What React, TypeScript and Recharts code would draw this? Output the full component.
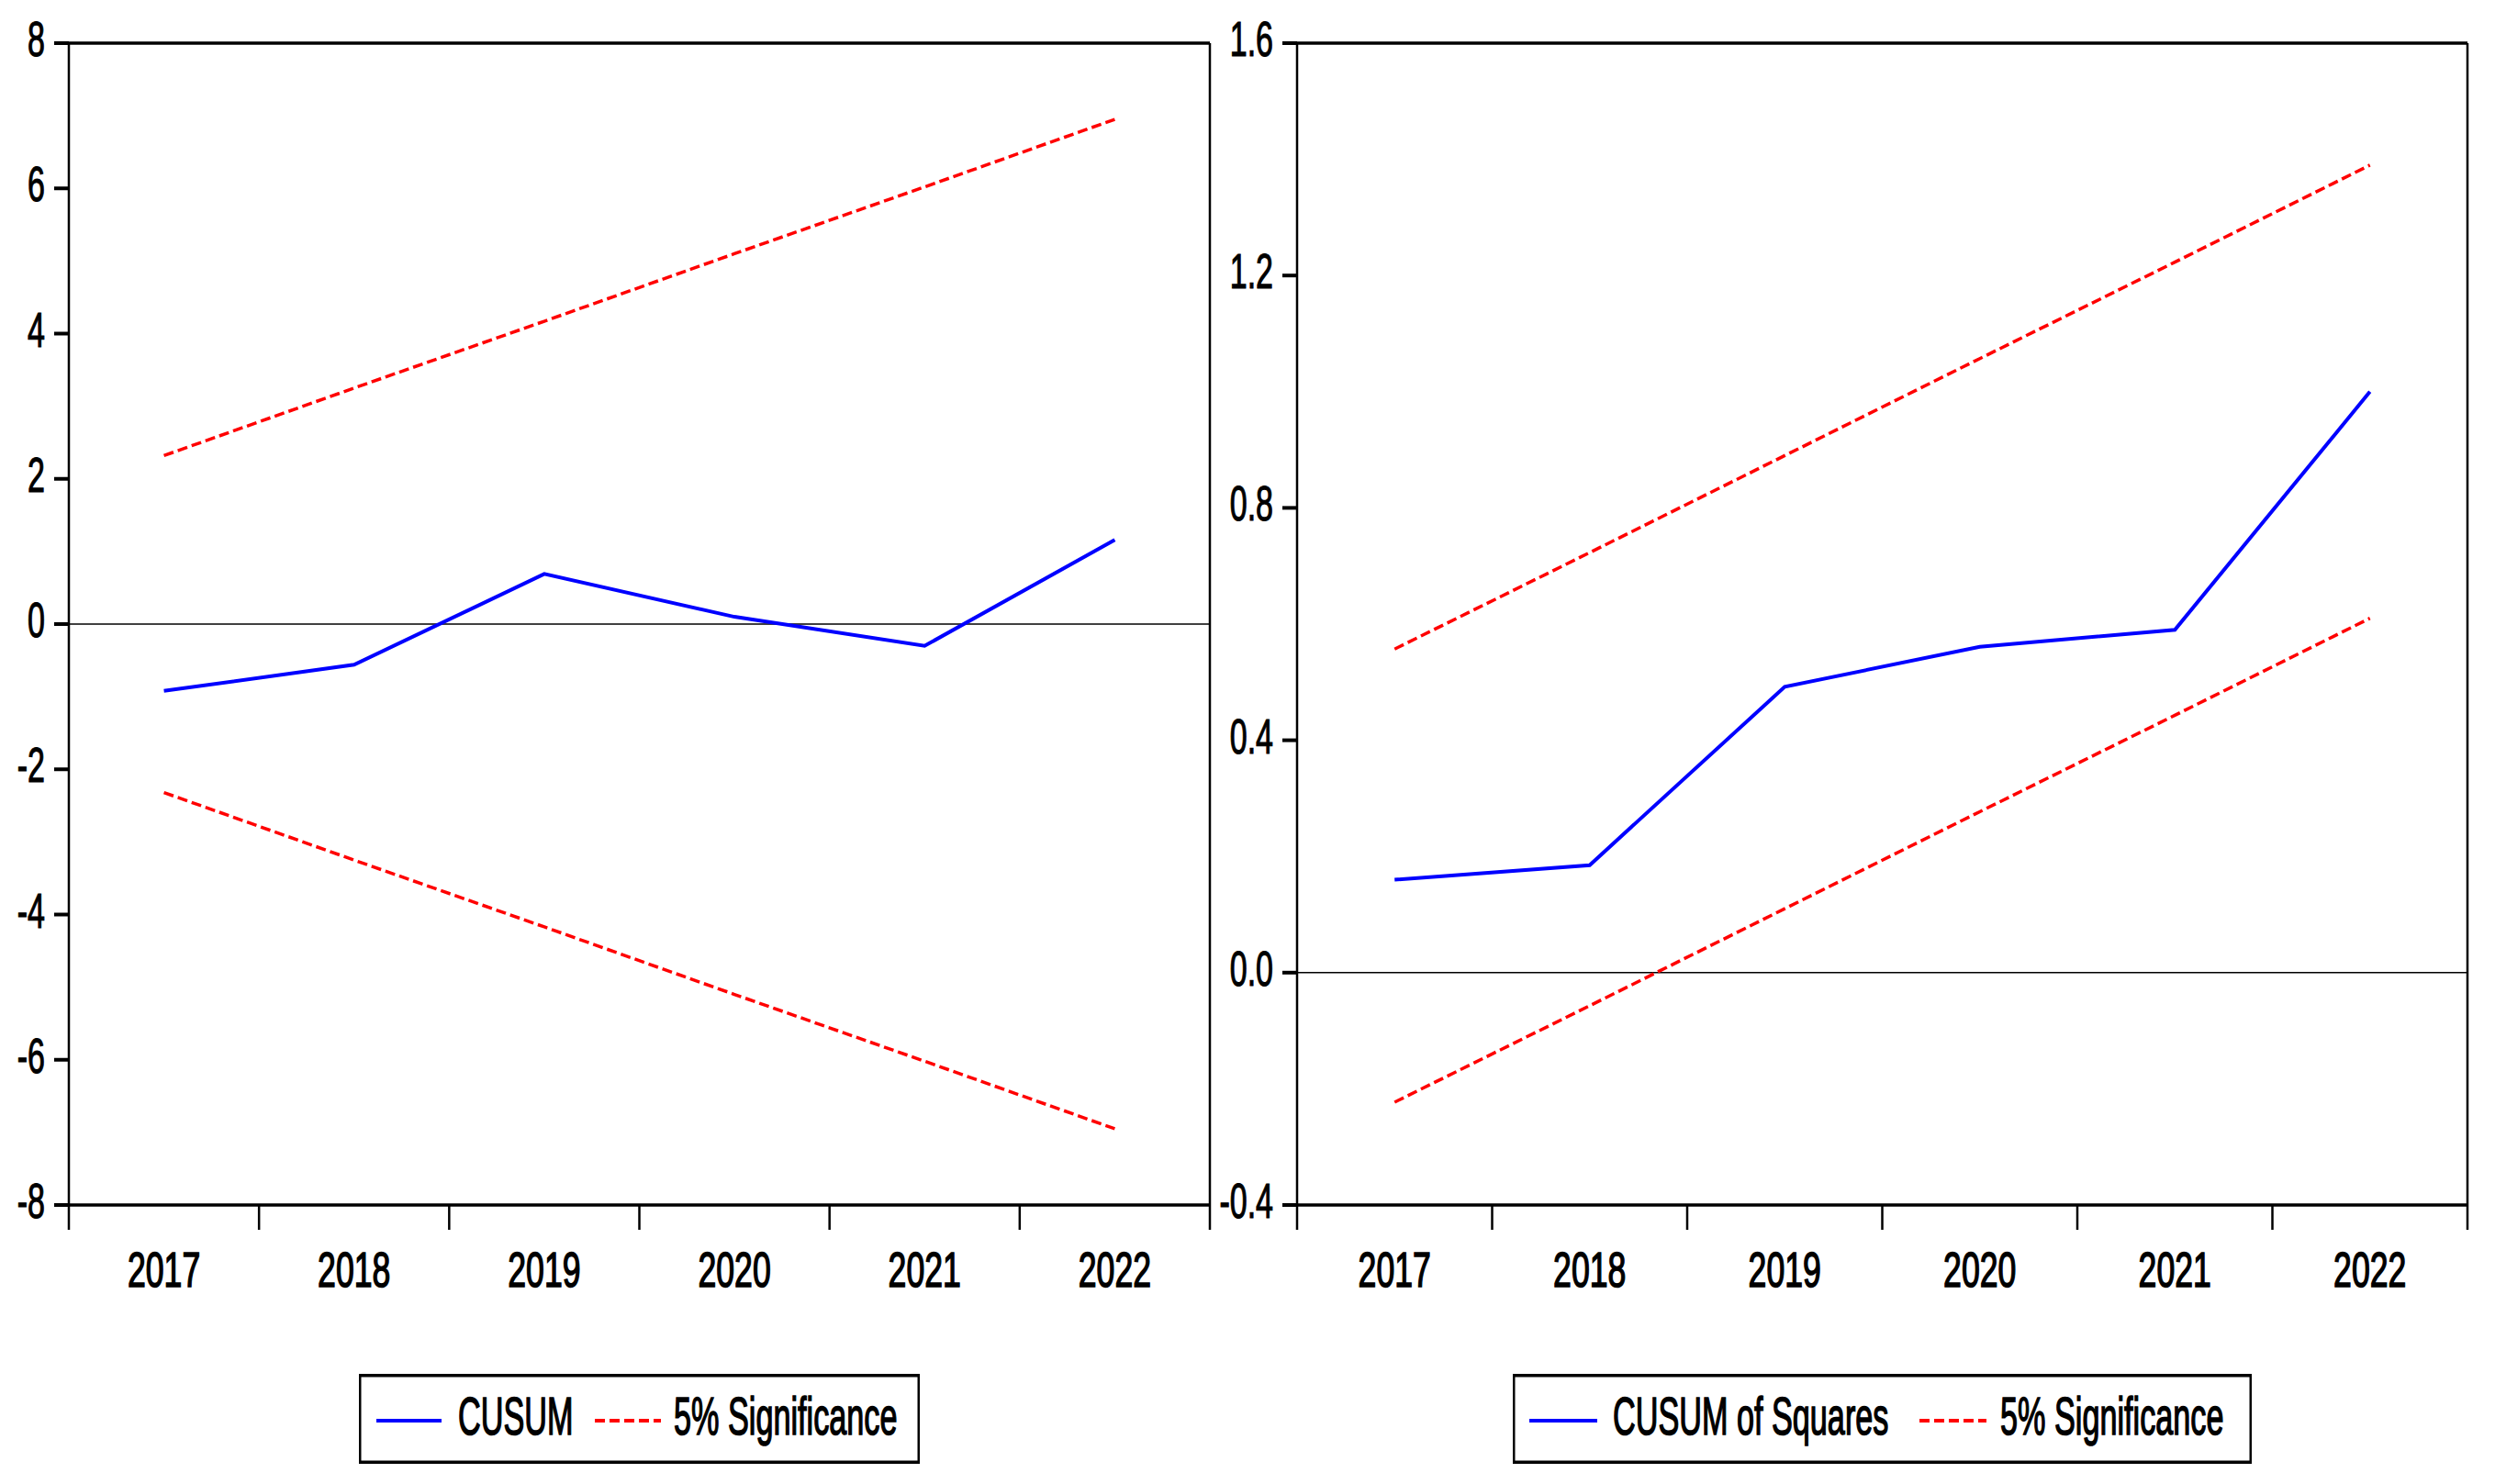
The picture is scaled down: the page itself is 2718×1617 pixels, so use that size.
import { LineChart, Line, XAxis, YAxis, ReferenceLine, Legend } from 'recharts';

// observation years
const years = [2017, 2018, 2019, 2020, 2021, 2022];

// CUSUM panel
const cusum = [-0.92, -0.56, 0.69, 0.1, -0.3, 1.16];
const cusumUpper = [2.32, 3.25, 4.17, 5.1, 6.02, 6.95];
const cusumLower = [-2.32, -3.25, -4.17, -5.1, -6.02, -6.95];
const cusumTicks = [-8, -6, -4, -2, 0, 2, 4, 6, 8];

// CUSUM of squares panel
const cusumSq = [0.16, 0.185, 0.492, 0.561, 0.59, 1.0];
const sqUpper = [0.557, 0.723, 0.89, 1.057, 1.223, 1.39];
const sqLower = [-0.223, -0.057, 0.11, 0.277, 0.443, 0.61];
const sqTicks = [-0.4, 0, 0.4, 0.8, 1.2, 1.6];

const leftLabels = ['CUSUM', '5% Significance'];
const rightLabels = ['CUSUM of Squares', '5% Significance'];

const FONT = '"Liberation Sans", Arial, sans-serif';
const BLUE = '#0000ff';
const RED = '#ff0000';
const DASH = '11 5';

const boundaries = [...years.map((y) => y - 0.5), years[years.length - 1] + 0.5];

function XTick({ x, y, payload, half }: any) {
  const year = payload.value + 0.5;
  if (!years.includes(year)) return null;
  return (
    <text
      transform={`translate(${x + half},${y + 62}) scale(0.66,1)`}
      textAnchor="middle"
      fontSize={54}
      fontFamily={FONT}
      fill="#000"
      stroke="#000"
      strokeWidth={1.6}
    >
      {year}
    </text>
  );
}

function YTick({ x, y, payload, fmt }: any) {
  return (
    <text
      transform={`translate(${x},${y + 14}) scale(0.63,1)`}
      textAnchor="end"
      fontSize={54}
      fontFamily={FONT}
      fill="#000"
      stroke="#000"
      strokeWidth={1.2}
    >
      {fmt(payload.value)}
    </text>
  );
}

function LegendBox({ w, labels, pos }: any) {
  const h = 98;
  return (
    <svg width={w} height={h} style={{ display: 'block', overflow: 'visible' }}>
      <line x1={0} y1={1.75} x2={w} y2={1.75} stroke="#000" strokeWidth={3.5} />
      <line x1={0} y1={h - 1.75} x2={w} y2={h - 1.75} stroke="#000" strokeWidth={3.5} />
      <line x1={1.25} y1={0} x2={1.25} y2={h} stroke="#000" strokeWidth={2.5} />
      <line x1={w - 1.25} y1={0} x2={w - 1.25} y2={h} stroke="#000" strokeWidth={2.5} />
      <line x1={pos[0]} y1={51} x2={pos[1]} y2={51} stroke={BLUE} strokeWidth={4} />
      <text transform={`translate(${pos[2]},66) scale(0.59,1)`} fontSize={58} fontFamily={FONT} fill="#000" stroke="#000" strokeWidth={1.6}>
        {labels[0]}
      </text>
      <line x1={pos[3]} y1={51} x2={pos[4]} y2={51} stroke={RED} strokeWidth={4} strokeDasharray={DASH} />
      <text transform={`translate(${pos[5]},66) scale(0.59,1)`} fontSize={58} fontFamily={FONT} fill="#000" stroke="#000" strokeWidth={1.6}>
        {labels[1]}
      </text>
    </svg>
  );
}

function Panel({ width, yWidth, right, main, upper, lower, domain, ticks, fmt, labels, legend, pos }: any) {
  const height = 1617;
  const half = (width - yWidth - right) / years.length / 2;
  const data = years.map((y, i) => ({ year: y, main: main[i], upper: upper[i], lower: lower[i] }));
  return (
    <LineChart width={width} height={height} data={data} margin={{ top: 47, right, bottom: 204, left: 0 }}>
      <XAxis
        type="number"
        dataKey="year"
        domain={[boundaries[0], boundaries[boundaries.length - 1]]}
        ticks={boundaries}
        interval={0}
        height={100}
        tickSize={27}
        tickMargin={0}
        axisLine={{ stroke: '#000', strokeWidth: 3.5 }}
        tickLine={{ stroke: '#000', strokeWidth: 2.5 }}
        tick={<XTick half={half} />}
      />
      <YAxis
        type="number"
        domain={domain}
        ticks={ticks}
        interval={0}
        width={yWidth}
        tickSize={16}
        tickMargin={10}
        axisLine={{ stroke: '#000', strokeWidth: 2.5 }}
        tickLine={{ stroke: '#000', strokeWidth: 4 }}
        tick={<YTick fmt={fmt} />}
      />
      <ReferenceLine y={0} stroke="#000" strokeWidth={1.5} />
      <ReferenceLine y={domain[1]} stroke="#000" strokeWidth={3.5} />
      <ReferenceLine x={boundaries[boundaries.length - 1]} stroke="#000" strokeWidth={2.5} />
      <Line dataKey="upper" stroke={RED} strokeWidth={3.5} strokeDasharray={DASH} dot={false} activeDot={false} isAnimationActive={false} />
      <Line dataKey="lower" stroke={RED} strokeWidth={3.5} strokeDasharray={DASH} dot={false} activeDot={false} legendType="none" isAnimationActive={false} />
      <Line dataKey="main" stroke={BLUE} strokeWidth={4} dot={false} activeDot={false} isAnimationActive={false} />
      <Legend
        layout="horizontal"
        verticalAlign="middle"
        align="center"
        wrapperStyle={{ left: legend[0], top: 1497, width: legend[1], height: 98 }}
        content={() => <LegendBox w={legend[1]} labels={labels} pos={pos} />}
      />
    </LineChart>
  );
}

export default function App() {
  return (
    <div style={{ position: 'absolute', left: 0, top: 0, width: 2718, height: 1617, background: '#fff' }}>
      <div style={{ position: 'absolute', left: 0, top: 0 }}>
        <Panel
          width={1320}
          yWidth={75}
          right={2}
          main={cusum}
          upper={cusumUpper}
          lower={cusumLower}
          domain={[-8, 8]}
          ticks={cusumTicks}
          fmt={(v: number) => String(v)}
          labels={leftLabels}
          legend={[391, 611]}
          pos={[19, 90, 108, 257, 329, 343]}
        />
      </div>
      <div style={{ position: 'absolute', left: 1320, top: 0 }}>
        <Panel
          width={1398}
          yWidth={93}
          right={30}
          main={cusumSq}
          upper={sqUpper}
          lower={sqLower}
          domain={[-0.4, 1.6]}
          ticks={sqTicks}
          fmt={(v: number) => v.toFixed(1)}
          labels={rightLabels}
          legend={[328, 805]}
          pos={[18, 92, 109, 443, 516, 531]}
        />
      </div>
    </div>
  );
}
